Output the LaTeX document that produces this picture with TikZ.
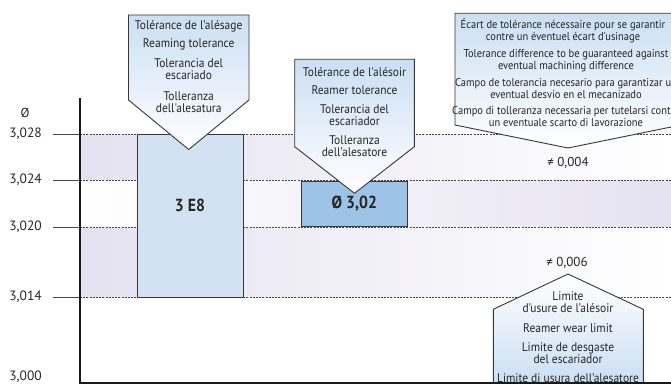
\documentclass[tikz,border=0pt]{standalone}
\usepackage{fontspec}
\setmainfont{PT Sans}
\newfontfamily\cond[FakeStretch=0.92]{PT Sans}
\newfontfamily\condb[FakeStretch=0.9]{PT Sans}
\definecolor{lav}{RGB}{229,226,240}
\definecolor{boxA}{RGB}{211,226,243}
\definecolor{boxB}{RGB}{157,195,230}
\definecolor{callblue}{RGB}{203,223,243}
\definecolor{edge}{RGB}{55,55,55}
\definecolor{gridc}{RGB}{70,70,70}
\tikzset{
  gridline/.style={gridc, line width=0.9pt, dash pattern=on 2pt off 1.2pt},
  tickline/.style={gridc, line width=0.9pt},
  downcall/.style={draw=edge, line width=0.9pt, top color=callblue, bottom color=white},
  upcall/.style={draw=edge, line width=0.9pt, top color=white, bottom color=callblue},
  ctext/.style={font=\cond\fontsize{12.5}{12}\selectfont, align=center, inner sep=0pt, text=black!85},
  ctextsmall/.style={ctext, font=\cond\fontsize{11.4}{12}\selectfont},
  ticklbl/.style={font=\fontsize{13.5}{14}\selectfont, anchor=east, inner sep=0pt, text=black!85},
  difflbl/.style={font=\fontsize{13}{14}\selectfont, inner sep=0pt, text=black!85},
  bigbox/.style={draw=edge, line width=0.9pt, inner sep=0pt},
  biglbl/.style={font=\condb\bfseries\fontsize{17.5}{19}\selectfont, inner sep=0pt, text=black!85}
}
\begin{document}
\begin{tikzpicture}[x=1pt,y=-1pt]
\useasboundingbox (0,0) rectangle (671,385);
% bands
\fill[left color=lav, right color=white] (80,134) rectangle (671,180);
\fill[left color=white, right color=lav] (80,180) rectangle (671,227);
\fill[left color=lav, right color=white] (80,227) rectangle (671,297);
% grid lines and ticks
\foreach \yy in {134,180,227,297}{
  \draw[tickline] (53,\yy) -- (80,\yy);
  \draw[gridline] (80,\yy) -- (671,\yy);
}
% tick labels
\node[ticklbl] (t28) at (42,134) {3,028};
\node[ticklbl] (t24) at (42,180) {3,024};
\node[ticklbl] (t20) at (42,227) {3,020};
\node[ticklbl] (t14) at (42,297) {3,014};
\node[ticklbl] (t00) at (42,376.5) {3,000};
\node[difflbl] (dia) at (25,113) {Ø};
% boxes
\node[bigbox, fill=boxA, minimum width=106pt, minimum height=163pt] (e8) at (190,215.5) {};
\node[biglbl] (e8l) at (190,205) {3 E8};
\node[bigbox, fill=boxB, minimum width=106.7pt, minimum height=45pt, biglbl] (d302) at (354.3,203.5) {Ø 3,02};
% callout 1
\path[downcall] (128.5,15) -- (249,15) -- (249,100) -- (188.7,149.5) -- (128.5,100) -- cycle;
\node[ctext] (c1a) at (188.7,26) {Tolérance de l’alésage};
\node[ctext] (c1b) at (188.7,44) {Reaming tolerance};
\node[ctext] (c1c) at (188.7,69.5) {Tolerancia del\\escariado};
\node[ctext] (c1d) at (188.7,102) {Tolleranza\\dell'alesatura};
% callout 2
\path[downcall] (294.7,59.3) -- (414.3,59.3) -- (414.3,146.7) -- (354.5,193.3) -- (294.7,146.7) -- cycle;
\node[ctext] (c2a) at (354.5,71.7) {Tolérance de l'alésoir};
\node[ctext] (c2b) at (354.5,90) {Reamer tolerance};
\node[ctext] (c2c) at (354.5,115) {Tolerancia del\\escariador};
\node[ctext] (c2d) at (354.5,146.5) {Tolleranza\\dell’alesatore};
% callout 3
\path[downcall] (455,13.3) -- (681,13.3) -- (681,125) -- (568,148) -- (455,125) -- cycle;
\node[ctextsmall] (c3a) at (563,31) {Écart de tolérance nécessaire pour se garantir\\contre un éventuel écart d'usinage};
\node[ctextsmall] (c3b) at (566,60.5) {Tolerance difference to be guaranteed against\\eventual machining difference};
\node[ctextsmall] (c3c) at (566,89) {Campo de tolerancia necesario para garantizar un\\eventual desvío en el mecanizado};
\node[ctextsmall] (c3d) at (566,116.5) {Campo di tolleranza necessaria per tutelarsi contro\\un eventuale scarto di lavorazione};
\node[difflbl] (d4) at (568,163) {≠ 0,004};
% callout 4
\path[upcall] (568,274) -- (643.3,309.3) -- (643.3,383) -- (493.3,383) -- (493.3,309.3) -- cycle;
\node[difflbl] (d6) at (567,263.3) {≠ 0,006};
\node[ctext] (c4a) at (568,302.5) {Limite\\d’usure de l’alésoir};
\node[ctext] (c4b) at (568,328.3) {Reamer wear limit};
\node[ctext] (c4c) at (568,353) {Limite de desgaste\\del escariador};
\node[ctext] (c4d) at (568,378.3) {Limite di usura dell’alesatore};
% axes
\coordinate (axtop) at (80,98);
\coordinate (axorig) at (80,383);
\coordinate (axright) at (671,383);
\draw[black!90, line width=2pt] (axtop) -- ([yshift=-1pt]axorig);
\draw[black!90, line width=1.6pt] (axorig) -- (axright);
\end{tikzpicture}
\end{document}
